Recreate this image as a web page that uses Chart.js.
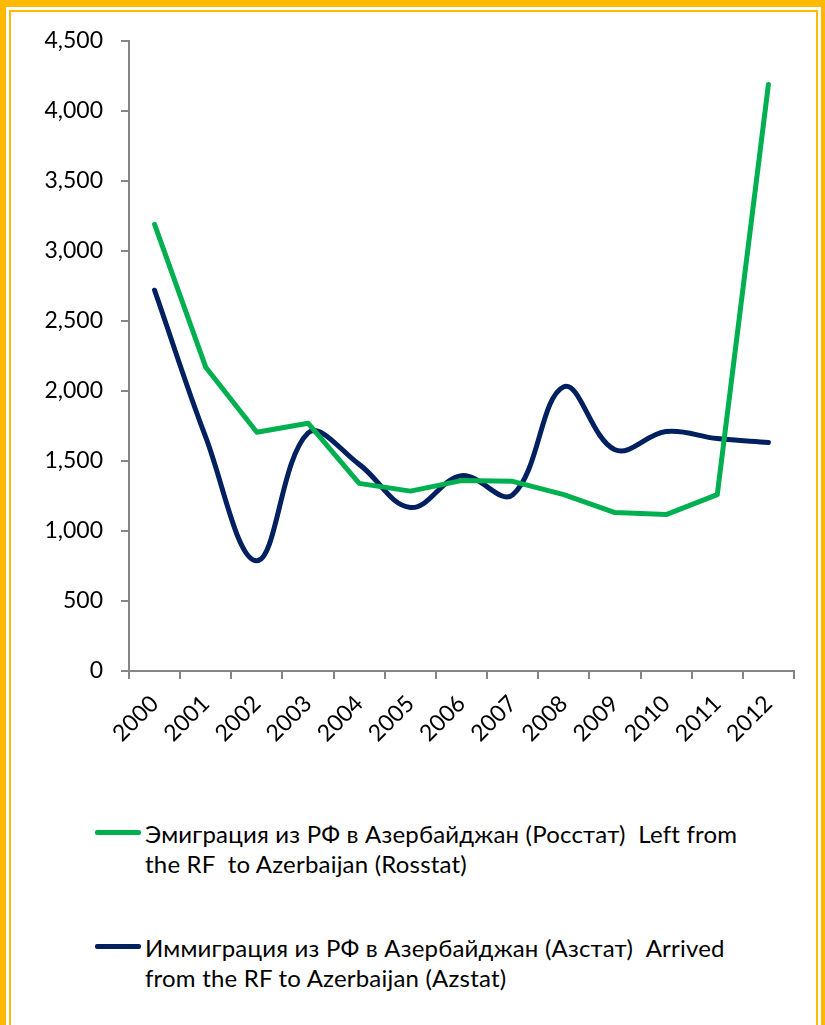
<!DOCTYPE html>
<html>
<head>
<meta charset="utf-8">
<script src="https://cdn.jsdelivr.net/npm/chart.js@4/dist/chart.umd.min.js"></script>
<style>
  body { margin: 0; background: #fff; width: 825px; height: 1025px; overflow: hidden; position: relative; font-family: Lato, "Open Sans", sans-serif; }
  #frame { position: absolute; left: 0; top: 0; width: 827px; height: 1100px; box-sizing: border-box; border: 6px solid #FFBA00; border-top-width: 7px; }
  #frame2 { position: absolute; left: 3px; top: 3px; right: 3px; bottom: 3px; border: 2px solid #FFBA00; }
  #wrap { position: absolute; left: 0; top: 0; width: 825px; height: 770px; }
  .leg { position: absolute; left: 95px; }
  .leg .sw { position: absolute; left: 0; top: 11px; width: 46px; height: 5px; border-radius: 2px; }
  .leg .tx { position: absolute; left: 50px; top: 0; font-size: 24px; line-height: 30px; letter-spacing: 0.2px; color: #000; white-space: pre; }
</style>
</head>
<body>
<div id="frame"><div id="frame2"></div></div>
<div id="wrap"><canvas id="myChart" width="825" height="770"></canvas></div>
<div id="legend"></div>
<script>
// years on the x axis
var years = ['2000','2001','2002','2003','2004','2005','2006','2007','2008','2009','2010','2011','2012'];
// Эмиграция из РФ в Азербайджан (Росстат)
var rosstat = [3190, 2170, 1705, 1770, 1340, 1285, 1360, 1355, 1260, 1132, 1117, 1260, 4190];
// Иммиграция из РФ в Азербайджан (Азстат)
var azstat = [2720, 1670, 787, 1700, 1476, 1168, 1395, 1258, 2030, 1580, 1710, 1660, 1632];
var yTicks = [0, 500, 1000, 1500, 2000, 2500, 3000, 3500, 4000, 4500];

var rosstatLabel = ['Эмиграция из РФ в Азербайджан (Росстат)  Left from', 'the RF  to Azerbaijan (Rosstat)'];
var azstatLabel = ['Иммиграция из РФ в Азербайджан (Азстат)  Arrived', 'from the RF to Azerbaijan (Azstat)'];

var green = '#00B050';
var navy = '#002060';
var axisGrey = '#868686';
var font = "Lato, 'Open Sans', sans-serif";

var ctx = document.getElementById('myChart');
var myChart = new Chart(ctx, {
  type: 'line',
  data: {
    labels: years,
    datasets: [{
      label: rosstatLabel.join(' '),
      data: rosstat,
      borderColor: green,
      backgroundColor: green,
      borderWidth: 5,
      pointRadius: 0,
      tension: 0,
      borderCapStyle: 'round',
      borderJoinStyle: 'round'
    }, {
      label: azstatLabel.join(' '),
      data: azstat,
      borderColor: navy,
      backgroundColor: navy,
      borderWidth: 5,
      pointRadius: 0,
      tension: 0.38,
      borderCapStyle: 'round',
      borderJoinStyle: 'round'
    }]
  },
  options: {
    responsive: false,
    animation: false,
    layout: { padding: { left: 0, right: 31, top: 41, bottom: 0 } },
    plugins: { legend: { display: false }, tooltip: { enabled: false } },
    scales: {
      x: {
        offset: true,
        grid: { display: true, drawOnChartArea: false, offset: true, tickLength: 8, color: axisGrey, lineWidth: 2 },
        border: { color: axisGrey, width: 2 },
        ticks: { color: '#000', font: { family: font, size: 23 }, minRotation: 45, maxRotation: 45, padding: 11 },
        afterFit: function (scale) { scale.height = 99; }
      },
      y: {
        min: 0,
        max: 4500,
        grid: { display: true, drawOnChartArea: false, tickLength: 8, color: axisGrey, lineWidth: 2 },
        border: { color: axisGrey, width: 2 },
        ticks: { color: '#000', font: { family: font, size: 23 }, padding: 18 },
        afterBuildTicks: function (scale) { scale.ticks = yTicks.map(function (v) { return { value: v }; }); },
        afterFit: function (scale) { scale.width = 129; }
      }
    }
  }
});

// legend below the chart
var legend = document.getElementById('legend');
[[green, rosstatLabel, 819], [navy, azstatLabel, 933]].forEach(function (item) {
  var d = document.createElement('div');
  d.className = 'leg';
  d.style.top = item[2] + 'px';
  d.innerHTML = '<div class="sw" style="background:' + item[0] + '"></div>' +
    '<div class="tx">' + item[1].join('\n') + '</div>';
  legend.appendChild(d);
});
</script>
</body>
</html>
